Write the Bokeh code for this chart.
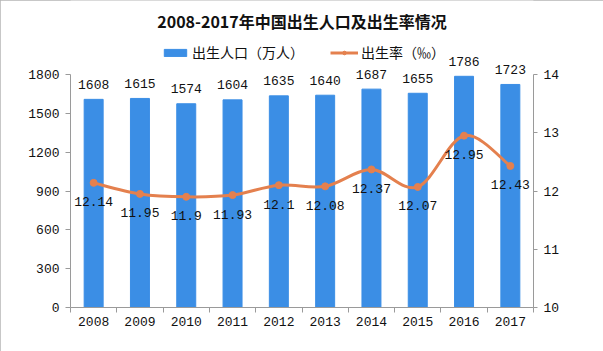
import numpy as np
from bokeh.plotting import figure
from bokeh.models import Range1d, LinearAxis, FixedTicker, Legend, LegendItem
from bokeh.core.properties import value
from bokeh.embed import file_html
from bokeh.resources import INLINE

# ---- data ----
years = ["2008", "2009", "2010", "2011", "2012", "2013", "2014", "2015", "2016", "2017"]
births = [1608, 1615, 1574, 1604, 1635, 1640, 1687, 1655, 1786, 1723]
rates = [12.14, 11.95, 11.9, 11.93, 12.1, 12.08, 12.37, 12.07, 12.95, 12.43]
left_ticks = [0, 300, 600, 900, 1200, 1500, 1800]
right_ticks = [10, 11, 12, 13, 14]
title_text = "2008-2017年中国出生人口及出生率情况"
legend_births = "出生人口（万人）"
legend_rate = "出生率（‰）"

BLUE = "#3B8EE5"
ORANGE = "#E4804E"
CJK = "Noto Sans CJK SC"
NUM = "Liberation Mono"

# layout (pixels)
W, H = 603, 351
AX_TOP_PX = 74       # where 1800 / 14 sit
AX_BOT_PX = 307      # where 0 / 10 sit
TITLE_PX = 20
LEFT_MIN, LEFT_MAX = 0, 1800
RIGHT_MIN, RIGHT_MAX = 10, 14

axis_h = AX_BOT_PX - AX_TOP_PX
left_top = LEFT_MAX + AX_TOP_PX * (LEFT_MAX - LEFT_MIN) / axis_h
right_top = RIGHT_MAX + AX_TOP_PX * (RIGHT_MAX - RIGHT_MIN) / axis_h
title_y = LEFT_MIN + (AX_BOT_PX - TITLE_PX) * (LEFT_MAX - LEFT_MIN) / axis_h

n = len(years)
xs = np.arange(n) + 0.5
r = np.array(rates, dtype=float)

p = figure(width=W, height=H, x_range=Range1d(0, n), y_range=Range1d(LEFT_MIN, left_top),
           output_backend="svg", toolbar_location=None,
           min_border_left=70, min_border_right=70, min_border_bottom=H - AX_BOT_PX, min_border_top=0)
p.extra_y_ranges = {"rate": Range1d(RIGHT_MIN, right_top)}
p.xgrid.visible = False
p.ygrid.visible = False
p.outline_line_color = None
p.background_fill_color = "white"
p.border_fill_color = "white"

bars = p.vbar(x=xs, top=births, width=0.41, color=BLUE)

# smooth line (Catmull-Rom -> cubic bezier)
P = np.column_stack([xs, r])
ext = np.vstack([P[0], P, P[-1]])
x0 = P[:-1, 0]; y0 = P[:-1, 1]
x1 = P[1:, 0]; y1 = P[1:, 1]
c0 = P[:-1] + (ext[2:n + 1] - ext[0:n - 1]) / 6.0
c1 = P[1:] - (ext[3:n + 2] - ext[1:n]) / 6.0
p.bezier(x0=x0, y0=y0, x1=x1, y1=y1, cx0=c0[:, 0], cy0=c0[:, 1], cx1=c1[:, 0], cy1=c1[:, 1],
         line_color=ORANGE, line_width=3, y_range_name="rate")
p.scatter(x=xs, y=r, size=7, fill_color=ORANGE, line_color=ORANGE, y_range_name="rate")

# legend proxies (drawn off-range, only used for the legend glyph)
leg_line = p.line(x=[-5, -4], y=[-100, -100], line_color=ORANGE, line_width=3)
leg_dot = p.scatter(x=[-5], y=[-100], size=6, fill_color=ORANGE, line_color=ORANGE)

# data labels
p.text(x=xs, y=births, text=[str(b) for b in births], text_font=value(NUM),
       text_font_size="13px", text_align="center", text_baseline="middle",
       y_offset=-15, text_color="#111111")
p.text(x=xs, y=r, text=[("%g" % v) for v in rates], text_font=value(NUM),
       text_font_size="13px", text_align="center", text_baseline="middle",
       y_offset=19, text_color="#111111", y_range_name="rate")

# title
p.text(x=[n / 2], y=[title_y], text=[title_text], text_font=value(CJK),
       text_font_size="16px", text_font_style="bold", text_align="center",
       text_baseline="middle", text_color="#111111")

# axes
ax_col = "#9a9a9a"
xa = p.xaxis[0]
xa.ticker = FixedTicker(ticks=list(xs), minor_ticks=list(range(n + 1)))
xa.major_label_overrides = {float(x): y for x, y in zip(xs, years)}
xa.major_tick_in = 0
xa.major_tick_out = 0
xa.minor_tick_in = 0
xa.minor_tick_out = 5
xa.minor_tick_line_color = ax_col
xa.axis_line_color = ax_col
xa.major_label_standoff = 4
xa.major_label_text_font = NUM
xa.major_label_text_font_size = "13px"
xa.major_label_text_color = "#111111"

ya = p.yaxis[0]
ya.ticker = FixedTicker(ticks=left_ticks)
ya.bounds = (LEFT_MIN, LEFT_MAX)
ya.major_tick_in = 0
ya.major_tick_out = 5
ya.minor_tick_line_color = None
ya.axis_line_color = ax_col
ya.major_tick_line_color = ax_col
ya.major_label_standoff = 6
ya.major_label_text_font = NUM
ya.major_label_text_font_size = "13px"
ya.major_label_text_color = "#111111"

ra = LinearAxis(y_range_name="rate", ticker=FixedTicker(ticks=right_ticks),
                bounds=(RIGHT_MIN, RIGHT_MAX))
ra.major_tick_in = 0
ra.major_tick_out = 4
ra.minor_tick_line_color = None
ra.axis_line_color = ax_col
ra.major_tick_line_color = ax_col
ra.major_label_standoff = 6
ra.major_label_text_font = NUM
ra.major_label_text_font_size = "13px"
ra.major_label_text_color = "#111111"
p.add_layout(ra, "right")

legend = Legend(items=[LegendItem(label=legend_births, renderers=[bars]),
                       LegendItem(label=legend_rate, renderers=[leg_line, leg_dot])],
                orientation="horizontal", location=(91, 245),
                glyph_width=28, glyph_height=9, label_height=16, label_standoff=3,
                spacing=26, padding=0, margin=0,
                label_text_font=CJK, label_text_font_size="14px", label_text_color="#111111",
                border_line_color=None, background_fill_alpha=0)
p.add_layout(legend, "center")

p.styles = {"outline": "1px solid #b5b5b5", "outline-offset": "-1px"}

open("out.html", "w").write(file_html(p, INLINE))
